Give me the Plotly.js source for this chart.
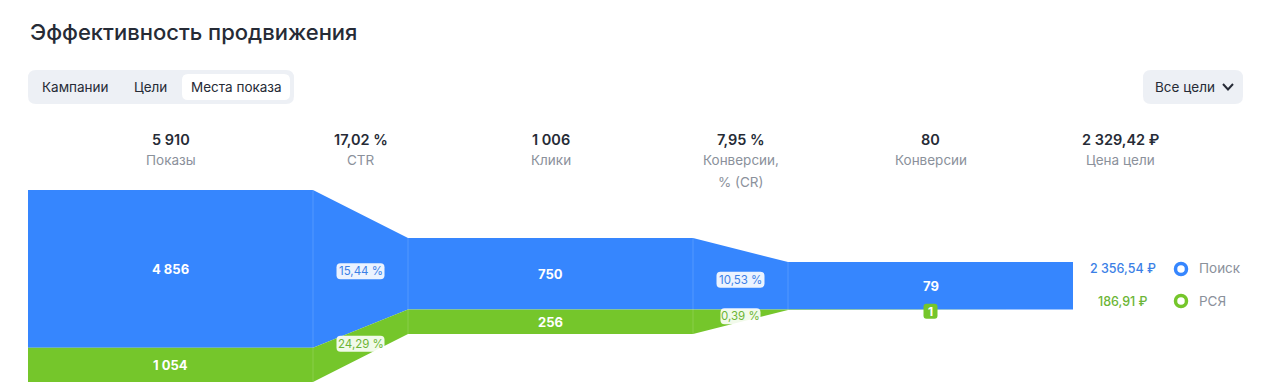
<!DOCTYPE html>
<html><head><meta charset="utf-8">
<script src="https://cdn.plot.ly/plotly-3.0.1.min.js"></script>
<style>html,body{margin:0;padding:0;background:#fff;}#chart{width:1270px;height:389px;}</style>
</head><body><div id="chart"></div>
<script>
// ---- data ----
const stages = ['Показы', 'Клики', 'Конверсии'];
const poisk = [4856, 750, 79];
const rsya = [1054, 256, 1];
const totals = [5910, 1006, 80];
const poiskRatios = ['15,44 %', '10,53 %'];
const rsyaRatios = ['24,29 %', '0,39 %'];
const headerValues = ['5 910', '17,02 %', '1 006', '7,95 %', '80', '2 329,42 ₽'];
const headerLabels = ['Показы', 'CTR', 'Клики', 'Конверсии,<br>% (CR)', 'Конверсии', 'Цена цели'];
const seriesNames = ['Поиск', 'РСЯ'];
const seriesCosts = ['2 356,54 ₽', '186,91 ₽'];
const tabs = ['Кампании', 'Цели', 'Места показа'];
const goalsButton = 'Все цели';
const titleText = 'Эффективность продвижения';

// ---- style / layout constants ----
const BLUE = '#3686fe', GREEN = '#75c62b';
const BLUE_T = '#3b7fe6', GREEN_T = '#6cb536';
const DARK = '#262b36', GRAY = '#8b919b';
const FONT = 'Inter, "Noto Sans", sans-serif';
const UNIT = 95, X0PX = 28;           // pixels per x unit, left offset
const C = 286, H0 = 192, SHRINK = 0.5; // vertical centre and first stage height
const X = px => (px - X0PX) / UNIT;

const fmt = n => String(n).replace(/\B(?=(\d{3})+(?!\d))/g, ' ');

// geometry per stage
const geo = stages.map((s, i) => {
  const H = H0 * Math.pow(SHRINK, i);
  const top = C - H / 2;
  const split = top + H * poisk[i] / totals[i];
  const bottom = C + H / 2;
  return {x0: 4 * i, x1: 4 * i + 3, top, split, bottom};
});

function band(upper, lower) {
  const xs = [], ys = [];
  geo.forEach(g => { xs.push(g.x0, g.x1); ys.push(g[upper], g[upper]); });
  for (let i = geo.length - 1; i >= 0; i--) { const g = geo[i]; xs.push(g.x1, g.x0); ys.push(g[lower], g[lower]); }
  xs.push(xs[0]); ys.push(ys[0]);
  return {xs, ys};
}

const bBand = band('top', 'split');
const gBand = band('split', 'bottom');

const traces = [
  {x: bBand.xs, y: bBand.ys, type: 'scatter', mode: 'lines', fill: 'toself', fillcolor: BLUE,
   line: {width: 0, color: BLUE}, hoverinfo: 'skip', showlegend: false},
  {x: gBand.xs, y: gBand.ys, type: 'scatter', mode: 'lines', fill: 'toself', fillcolor: GREEN,
   line: {width: 0, color: GREEN}, hoverinfo: 'skip', showlegend: false},
  {x: [X(1181), X(1181)], y: [269, 301], type: 'scatter', mode: 'markers', hoverinfo: 'skip', showlegend: false,
   marker: {size: 11, color: '#fff', line: {width: 3.5, color: [BLUE, GREEN]}}, cliponaxis: false}
];

function rr(x0, y0, x1, y1, r) {
  const rx = r / UNIT, ry = r;
  const a = X(x0), b = X(x1);
  return `M ${a + rx},${y0} L ${b - rx},${y0} Q ${b},${y0} ${b},${y0 + ry} L ${b},${y1 - ry} Q ${b},${y1} ${b - rx},${y1} ` +
         `L ${a + rx},${y1} Q ${a},${y1} ${a},${y1 - ry} L ${a},${y0 + ry} Q ${a},${y0} ${a + rx},${y0} Z`;
}

const shapes = [];
const annotations = [];
const ann = (xpx, y, text, size, color, opts) => annotations.push(Object.assign({
  x: X(xpx), y, xref: 'x', yref: 'y', text, showarrow: false,
  font: {family: FONT, size, color}, xanchor: 'center', yanchor: 'middle'}, opts || {}));

// title
ann(28, 32, titleText, 22, DARK, {xanchor: 'left', font: {family: FONT, size: 22, color: DARK, weight: 500}});

// tab group
shapes.push({type: 'path', path: rr(28, 70, 294, 104, 8), fillcolor: '#edf0f5', line: {width: 0}, layer: 'below'});
shapes.push({type: 'path', path: rr(182, 74, 290, 100, 6), fillcolor: '#ffffff', line: {width: 0}, layer: 'below'});
const tabCenters = [75, 150, 236];
tabs.forEach((t, i) => ann(tabCenters[i], 87, t, 13.5, DARK));

// goals button
shapes.push({type: 'path', path: rr(1143, 70, 1243, 104, 8), fillcolor: '#edf0f5', line: {width: 0}, layer: 'below'});
ann(1185, 87, goalsButton, 13.5, DARK);
shapes.push({type: 'path', path: `M ${X(1223)},${84} L ${X(1228)},${89.5} L ${X(1233)},${84}`,
  line: {color: DARK, width: 2}, layer: 'above'});

// headers
headerValues.forEach((v, i) => {
  const xc = X0PX + (1.5 + 2 * i) * UNIT;
  ann(xc, 139, v, 14.5, DARK, {font: {family: FONT, size: 14.5, color: DARK, weight: 600}});
  headerLabels[i].split('<br>').forEach((line, j) => ann(xc, 160 + 22 * j, line, 13.5, GRAY));
});

// dividers
geo.forEach((g, i) => {
  if (i < geo.length - 1) {
    const n = geo[i + 1];
    shapes.push({type: 'line', x0: g.x1, x1: g.x1, y0: g.top, y1: g.bottom, line: {color: 'rgba(255,255,255,0.15)', width: 1}, layer: 'above'});
    shapes.push({type: 'line', x0: n.x0, x1: n.x0, y0: n.top, y1: n.bottom, line: {color: 'rgba(255,255,255,0.15)', width: 1}, layer: 'above'});
  }
});

// stage value labels
geo.forEach((g, i) => {
  const xc = X0PX + (g.x0 + 1.5) * UNIT;
  ann(xc, (g.top + g.split) / 2, fmt(poisk[i]), 13, '#ffffff', {font: {family: FONT, size: 13, color: '#fff', weight: 700}});
  if (rsya[i] >= 10) {
    ann(xc, (g.split + g.bottom) / 2 + 0.5, fmt(rsya[i]), 13, '#ffffff', {font: {family: FONT, size: 13, color: '#fff', weight: 700}});
  } else {
    const yc = (g.split + g.bottom) / 2 + 1.5;
    shapes.push({type: 'path', path: rr(xc - 7, yc - 7.5, xc + 7, yc + 7.5, 3), fillcolor: GREEN, line: {width: 0}, layer: 'above'});
    ann(xc, yc, fmt(rsya[i]), 12, '#fff', {font: {family: FONT, size: 12, color: '#fff', weight: 700}});
  }
});

// transition ratio badges
function badge(xc, yc, text, color) {
  const w = 8 * text.length - 8, h = 16;
  shapes.push({type: 'path', path: rr(xc - w / 2, yc - h / 2, xc + w / 2, yc + h / 2, 4),
    fillcolor: 'rgba(255,255,255,0.9)', line: {width: 0}, layer: 'above'});
  ann(xc, yc, text, 11.5, color);
}
for (let i = 0; i < geo.length - 1; i++) {
  const g = geo[i], n = geo[i + 1];
  const xc = X0PX + (g.x1 + 0.5) * UNIT;
  const tm = (g.top + n.top) / 2, sm = (g.split + n.split) / 2, bm = (g.bottom + n.bottom) / 2;
  badge(xc, (tm + sm) / 2, poiskRatios[i], BLUE_T);
  badge(xc, (sm + bm) / 2 + 0.5, rsyaRatios[i], GREEN_T);
}

// costs & legend
ann(1123, 268, seriesCosts[0], 12.5, BLUE_T, {font: {family: FONT, size: 12.5, color: BLUE_T, weight: 500}});
ann(1123, 301, seriesCosts[1], 12.5, GREEN_T, {font: {family: FONT, size: 12.5, color: GREEN_T, weight: 500}});
ann(1197, 268, seriesNames[0], 13.5, GRAY, {xanchor: 'left'});
ann(1197, 301, seriesNames[1], 13.5, GRAY, {xanchor: 'left'});

const layout = {
  width: 1270, height: 389,
  margin: {l: 0, r: 0, t: 0, b: 0},
  paper_bgcolor: '#fff', plot_bgcolor: '#fff',
  xaxis: {range: [X(0), X(1270)], visible: false, fixedrange: true},
  yaxis: {range: [389, 0], visible: false, fixedrange: true},
  shapes, annotations, showlegend: false,
  font: {family: FONT}
};
Plotly.newPlot('chart', traces, layout, {displayModeBar: false, staticPlot: true});
</script></body></html>
